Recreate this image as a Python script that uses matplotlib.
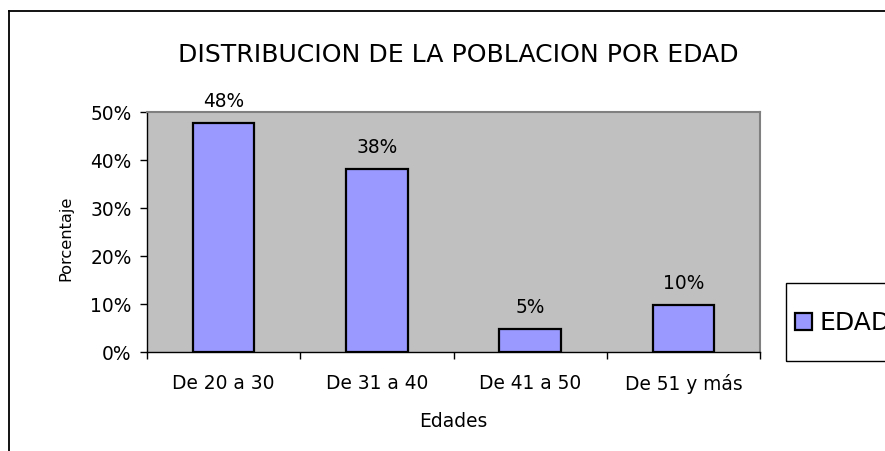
import matplotlib
matplotlib.use("Agg")
import matplotlib.pyplot as plt
from matplotlib.lines import Line2D
from matplotlib.patches import Rectangle
from matplotlib.ticker import PercentFormatter, FixedLocator

plt.rcParams['font.family'] = ['DejaVu Sans']

categories = ["De 20 a 30", "De 31 a 40", "De 41 a 50", "De 51 y más"]
values = [0.477, 0.381, 0.048, 0.097]
series_name = "EDAD"
title = "DISTRIBUCION DE LA POBLACION POR EDAD"
xlabel = "Edades"
ylabel = "Porcentaje"

W, H = 885, 451
fig = plt.figure(figsize=(W / 100, H / 100), dpi=100)
fig.patch.set_facecolor("white")

FS = 13.4

# plot area in pixels: left 147, right 760, top 112, bottom 352
l, r, t, b = 147, 760, 112, 352
ax = fig.add_axes([l / W, 1 - b / H, (r - l) / W, (b - t) / H])
ax.set_facecolor("#c0c0c0")

x = list(range(len(categories)))
bars = ax.bar(x, values, width=0.4, color="#9999ff", edgecolor="black",
              linewidth=1.6, label=series_name, zorder=3)
for xi, v in zip(x, values):
    ax.annotate(f"{round(v * 100):d}%", xy=(xi, v), xytext=(0, 11.5),
                textcoords="offset points", ha="center", va="baseline",
                fontsize=FS, color="black")

ax.set_xlim(-0.5, len(categories) - 0.5)
ax.set_ylim(0, 0.5)
ax.yaxis.set_major_locator(FixedLocator([0, 0.1, 0.2, 0.3, 0.4, 0.5]))
ax.yaxis.set_major_formatter(PercentFormatter(1.0, decimals=0))
ax.set_xticks(x)
ax.set_xticklabels(categories, fontsize=FS)
ax.set_xticks([i - 0.5 for i in range(len(categories) + 1)], minor=True)
ax.tick_params(axis="x", which="major", length=0, pad=16)
ax.tick_params(axis="x", which="minor", length=5, width=1, color="black", direction="out")
ax.tick_params(axis="y", length=5, width=1, color="black", direction="out", labelsize=FS, pad=6)

for side in ["top", "right"]:
    ax.spines[side].set_color("#808080")
    ax.spines[side].set_linewidth(1.5)
ax.spines["left"].set_color("black")
ax.spines["bottom"].set_color("black")
ax.spines["left"].set_linewidth(1)
ax.spines["bottom"].set_linewidth(1)

ax.set_xlabel(xlabel, fontsize=FS)
ax.xaxis.set_label_coords(0.5, (352 - 427) / 240)
ax.xaxis.label.set_verticalalignment("baseline")
ax.set_ylabel(ylabel, fontsize=11.7)
ax.yaxis.set_label_coords((66 - 147) / 613, (352 - 238) / 240)
ax.yaxis.label.set_verticalalignment("center")

fig.text(458 / W, 1 - 62 / H, title, ha="center", va="baseline", fontsize=18.1)

# legend
fig.add_artist(Rectangle((786 / W, 1 - 361 / H), 120 / W, 78 / H, transform=fig.transFigure,
                         fill=False, edgecolor="black", linewidth=1, clip_on=False))
leg = fig.legend(handles=[bars], labels=[series_name], loc="center left",
                 bbox_to_anchor=(795 / W, 1 - 323 / H), fontsize=18,
                 frameon=False, handlelength=0.68, handleheight=0.68,
                 handletextpad=0.3, borderpad=0, borderaxespad=0)

# chart-area border (left and top visible)
fig.add_artist(Line2D([8.5 / W, 8.5 / W], [0, 1 - 10.5 / H], transform=fig.transFigure,
                      color="black", linewidth=1.3))
fig.add_artist(Line2D([8.5 / W, 1], [1 - 10.5 / H, 1 - 10.5 / H], transform=fig.transFigure,
                      color="black", linewidth=1.3))

fig.savefig("out.png", dpi=100)
